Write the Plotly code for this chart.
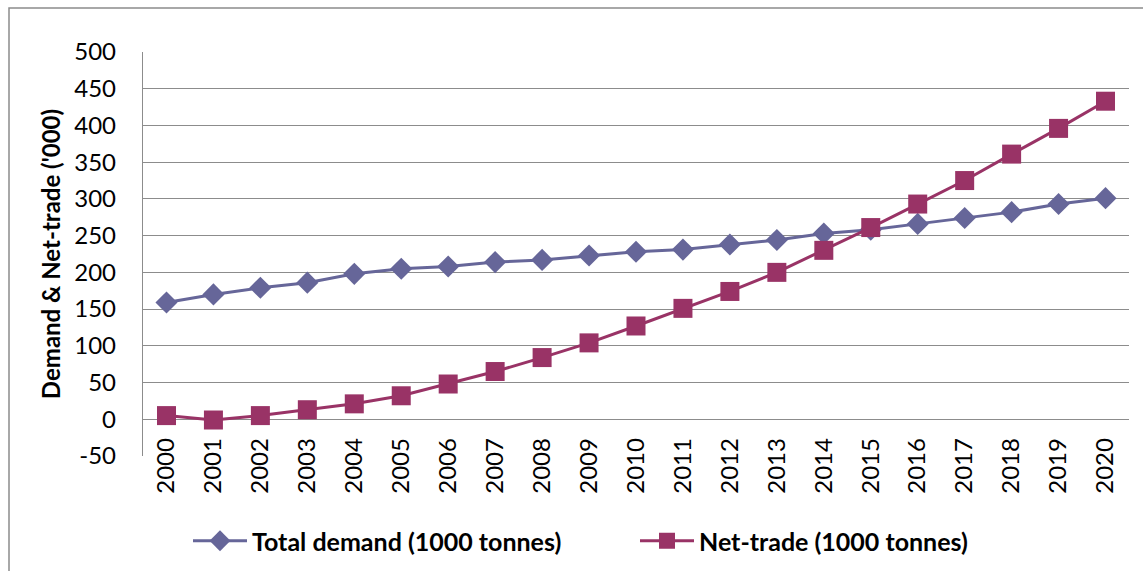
import plotly.graph_objects as go

years = [str(y) for y in range(2000, 2021)]
total_demand = [159, 170, 179, 186, 198, 205, 208, 214, 217, 223, 228,
                231, 238, 244, 253, 258, 266, 274, 282, 293, 301]
net_trade = [5, -1, 5, 13, 21, 32, 48, 65, 84, 104, 127,
             151, 174, 200, 230, 261, 293, 325, 361, 396, 433]

y_ticks = list(range(-50, 501, 50))

FONT = "Lato"
GRID = "#8c8c8c"

fig = go.Figure()
fig.add_trace(go.Scatter(
    x=years, y=total_demand, name="Total demand (1000 tonnes)",
    mode="lines+markers",
    line=dict(color="#666699", width=3),
    marker=dict(symbol="diamond", size=17, color="#666699"),
))
fig.add_trace(go.Scatter(
    x=years, y=net_trade, name="Net-trade (1000 tonnes)",
    mode="lines+markers",
    line=dict(color="#993366", width=3),
    marker=dict(symbol="square", size=19, color="#993366"),
))

# plot area spans 143..1129 px horizontally, 52..456 px vertically
L, R, T, B = 143, 14, 52, 115
W, H = 1143 - L - R, 571 - T - B

fig.update_layout(
    width=1143, height=571,
    margin=dict(l=L, r=R, t=T, b=B, autoexpand=False),
    paper_bgcolor="white", plot_bgcolor="white",
    font=dict(family=FONT, color="black", size=24),
    showlegend=True,
    legend=dict(
        orientation="h", x=(188 - L) / W, xanchor="left",
        y=-(541 - 456) / H, yanchor="middle",
        font=dict(family=FONT, size=25, weight="bold"),
        entrywidth=378, itemwidth=54,
        bgcolor="rgba(0,0,0,0)",
    ),
    xaxis=dict(
        type="category", range=[-0.5, 20.5],
        anchor="free", position=50 / 550,
        showgrid=False, showline=False, zeroline=False,
        tickangle=-90, ticks="", ticklabelstandoff=13,
        tickfont=dict(family=FONT, size=24),
    ),
    yaxis=dict(
        range=[-50, 500], tickvals=y_ticks, ticktext=[str(v) for v in y_ticks],
        showgrid=True, gridcolor=GRID, gridwidth=1.4,
        zeroline=False, showline=True, linecolor=GRID, linewidth=1.4,
        ticks="", ticklabelstandoff=21,
        tickfont=dict(family=FONT, size=24),
        title=dict(text="Demand & Net-trade ('000)",
                   font=dict(family=FONT, size=24, weight="bold"),
                   standoff=6),
    ),
)

# outer chart frame
fig.add_shape(type="rect", xref="paper", yref="paper",
              x0=(9 - L) / W, x1=(1160 - L) / W,
              y0=(456 - 590) / H, y1=(456 - 8) / H,
              line=dict(color="#8c8c8c", width=1.5), layer="below")

fig.write_html("out.html")
